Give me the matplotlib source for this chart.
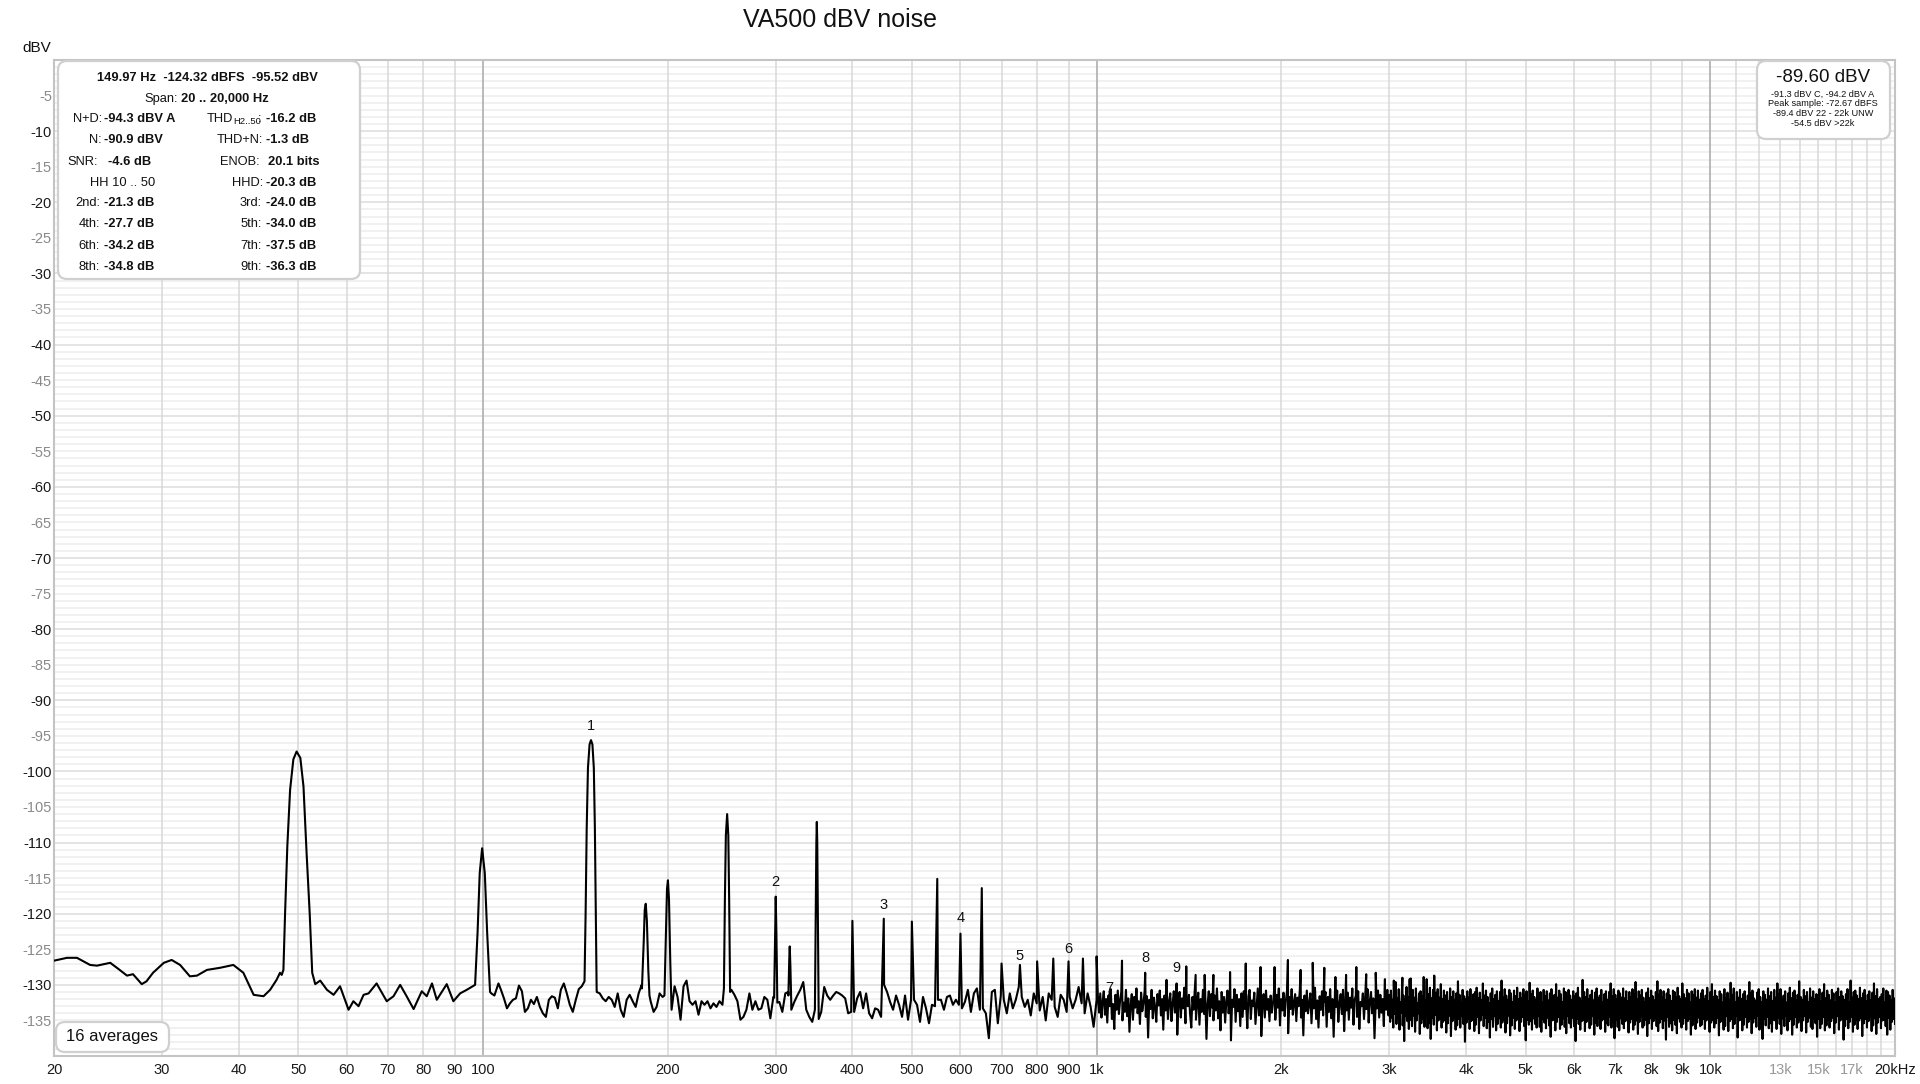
import numpy as np
import matplotlib
matplotlib.use("Agg")
import matplotlib.pyplot as plt
from matplotlib.patches import FancyBboxPatch
from matplotlib.transforms import IdentityTransform
from matplotlib.ticker import NullLocator

plt.rcParams['font.family'] = ['Liberation Sans', 'DejaVu Sans']

# ---------------- data ----------------
# 20 .. 106 Hz, smooth part incl. 50 Hz and 100 Hz peaks
low_freq = [20.0, 21.0, 21.8, 22.9, 23.5, 24.1, 24.7, 25.5, 26.3, 26.9,
            27.8, 28.3, 29.0, 30.2, 31.1, 32.1, 33.3, 34.2, 35.5, 37.3,
            39.2, 40.7, 42.3, 43.9, 45.0, 46.1, 46.7, 47.0, 47.3, 47.6,
            48.0, 48.5, 49.1, 49.7, 50.4, 51.0, 51.6, 52.2, 52.7, 53.3,
            54.3, 55.7, 57.1, 58.5, 59.6, 60.4, 61.5, 62.7, 63.9, 65.1,
            67.1, 69.7, 71.5, 73.3, 75.1, 77.1, 79.5, 81.0, 82.6, 84.1,
            87.3, 89.5, 91.8, 94.1, 97.1, 98.0, 98.8, 99.7, 100.7, 101.6,
            102.7, 103.2, 104.4, 106.0]
low_level = [-126.6, -126.2, -126.2, -127.2, -127.3, -127.1, -126.9, -127.8, -128.7, -128.5,
             -129.9, -129.5, -128.3, -126.9, -126.5, -127.2, -128.8, -128.7, -127.9, -127.6,
             -127.2, -128.3, -131.4, -131.6, -130.7, -129.3, -128.3, -128.6, -127.9, -119.9,
             -110.5, -102.6, -98.3, -97.2, -98.1, -102.1, -111.5, -119.9, -128.3, -129.9,
             -129.4, -130.7, -131.4, -130.2, -132.1, -133.5, -132.3, -133.0, -131.4, -131.2,
             -129.8, -132.3, -131.6, -130.0, -131.6, -133.4, -130.9, -131.6, -129.8, -132.1,
             -129.9, -132.3, -131.2, -130.7, -130.0, -122.7, -114.3, -110.8, -114.3, -122.7,
             -131.0, -131.2, -131.5, -129.8]

# noise floor 107 Hz .. 1 kHz (log-spaced readings)
mid_level = [-130.7, -131.9, -133.3, -132.6, -132.1, -131.9, -130.1, -130.9, -133.8, -133.3,
             -132.1, -132.7, -131.7, -133.1, -134.0, -134.5, -132.1, -131.6, -131.8, -133.3,
             -130.7, -129.8, -131.2, -132.8, -133.8, -132.1, -130.6, -130.2, -130.0, -128.0,
             -128.0, -130.0, -131.0, -131.2, -131.9, -132.3, -131.7, -132.1, -133.1, -131.2,
             -133.5, -134.5, -132.1, -131.4, -132.3, -133.1, -131.2, -130.0, -129.0, -130.0,
             -132.3, -133.8, -133.1, -131.2, -131.7, -131.0, -131.0, -133.5, -130.2, -131.7,
             -134.9, -130.2, -129.4, -132.3, -132.8, -132.3, -134.2, -132.3, -132.8, -132.3,
             -133.3, -132.6, -133.1, -132.3, -132.8, -131.0, -130.5, -130.7, -131.4, -132.3,
             -134.9, -134.5, -133.5, -131.2, -133.5, -132.3, -133.5, -133.3, -131.7, -132.1,
             -134.7, -131.7, -132.4, -132.4, -133.8, -131.2, -131.0, -133.5, -132.4, -131.5,
             -130.7, -129.6, -133.5, -134.5, -135.2, -133.0, -133.5, -133.8, -130.3, -131.5,
             -132.1, -131.5, -131.0, -131.2, -131.5, -131.9, -134.0, -133.8, -133.8, -131.9,
             -131.0, -133.3, -131.2, -134.0, -134.7, -133.3, -133.5, -134.5, -130.0, -131.0,
             -132.4, -133.5, -131.5, -132.8, -134.5, -131.5, -134.9, -132.1, -132.1, -132.8,
             -135.2, -131.7, -133.3, -135.4, -132.8, -133.0, -132.1, -132.1, -133.5, -131.7,
             -131.5, -132.8, -132.1, -132.8, -133.3, -132.4, -130.7, -133.8, -131.2, -130.5,
             -133.5, -133.3, -134.0, -137.5, -131.0, -130.7, -135.4, -131.5, -132.1, -134.0,
             -131.2, -133.3, -132.1, -130.3, -131.7, -133.1, -132.1, -134.3, -131.2, -132.6,
             -133.6, -131.7, -135.0, -131.2, -132.1, -133.1, -134.5, -131.4, -132.1, -133.8,
             -131.7, -133.3, -132.1, -130.3, -132.6, -134.0, -131.2, -133.1, -135.9, -132.1]

# noise floor 1 kHz .. 3 kHz
hi1_level = [-131.8, -133.9, -131.2, -134.6, -132.4, -130.9, -134.2, -132.0, -135.3, -131.5,
             -133.0, -130.6, -134.8, -132.7, -136.2, -131.4, -133.5, -130.8, -134.1, -132.2,
             -131.0, -135.0, -132.5, -133.8, -130.7, -134.4, -131.9, -136.6, -132.8, -131.3,
             -134.9, -131.7, -133.2, -130.5, -134.0, -132.3, -135.5, -131.1, -133.7, -132.6,
             -130.9, -134.5, -131.6, -137.4, -132.1, -133.4, -130.7, -134.7, -131.8, -133.1,
             -135.2, -131.3, -132.9, -130.8, -134.3, -132.0, -136.3, -131.5, -133.6, -130.6,
             -134.8, -132.4, -131.2, -135.1, -132.7, -130.9, -133.9, -131.6, -137.0, -132.2,
             -131.0, -134.6, -131.9, -133.3, -130.4, -135.4, -132.1, -133.0, -131.4, -134.2,
             -136.0, -131.7, -133.5, -130.6, -134.9, -132.5, -131.1, -135.6, -132.0, -133.8,
             -130.7, -134.1, -131.8, -137.6, -132.6, -130.9, -134.4, -131.3, -133.2, -135.0,
             -131.5, -133.6, -130.5, -134.7, -132.3, -136.4, -131.0, -133.9, -131.7, -135.3,
             -132.4, -130.8, -134.0, -131.9, -137.8, -132.1, -133.1, -130.6, -135.2, -131.4,
             -133.7, -132.0, -135.8, -131.2, -134.5, -130.9, -133.4, -132.7, -136.1, -131.6,
             -130.7, -134.8, -132.2, -133.0, -131.1, -135.5, -132.9, -130.5, -134.3, -131.8,
             -137.2, -132.5, -131.3, -134.6, -130.8, -133.5, -132.0, -135.1, -131.5, -133.9,
             -132.6, -130.8, -134.9, -131.4, -133.2, -130.5, -135.7, -132.0, -133.6, -131.1,
             -134.4, -132.3, -130.9, -136.8, -131.7, -133.4, -130.6, -134.2, -132.5, -131.3,
             -135.1, -131.8, -133.0, -130.7, -134.6, -132.1, -137.1, -131.5, -133.7, -130.8,
             -134.0, -132.7, -131.2, -135.4, -131.9, -133.3, -130.4, -134.8, -132.2, -136.0,
             -131.6, -133.5, -130.9, -134.3, -132.4, -131.0, -135.9, -131.7, -133.8, -130.6,
             -134.7, -132.0, -137.3, -131.4, -133.1, -130.8, -135.2, -132.6, -131.3, -134.1,
             -130.7, -136.5, -132.3, -133.6, -131.1, -134.9, -131.8, -133.2, -130.5, -135.6,
             -132.1, -131.5, -134.5, -130.9, -136.2, -132.4, -133.0, -131.2, -134.8, -131.7,
             -133.4, -130.6, -135.3, -132.2, -131.0, -134.0, -131.9, -137.5, -132.5, -133.3,
             -130.8, -134.6, -131.4, -133.9, -132.0, -135.8, -131.2, -133.5, -130.7, -134.3]

# noise floor 3 kHz .. 20 kHz
hi2_level = [-131.4, -135.2, -130.8, -134.6, -132.1, -136.0, -131.0, -134.1, -129.6, -135.5,
             -131.9, -134.8, -130.6, -136.3, -132.4, -133.9, -130.9, -135.7, -131.5, -137.9,
             -132.0, -134.4, -130.3, -135.1, -131.7, -136.2, -129.2, -134.9, -132.3, -135.8,
             -130.7, -134.3, -131.8, -136.6, -130.5, -135.0, -132.6, -134.0, -131.2, -136.9,
             -130.9, -135.4, -131.6, -134.7, -128.9, -135.9, -132.2, -134.5, -130.8, -136.1,
             -131.3, -135.3, -130.4, -137.6, -131.9, -134.6, -130.7, -135.6, -132.5, -134.2,
             -131.1, -136.4, -130.6, -135.0, -131.8, -134.8, -129.9, -136.0, -132.0, -135.2,
             -130.8, -134.9, -131.5, -136.7, -131.0, -135.4, -132.3, -134.3, -130.5, -137.2,
             -131.7, -135.1, -130.9, -134.6, -132.1, -136.3, -131.2, -135.7, -129.5, -134.8,
             -131.4, -136.0, -132.4, -134.4, -130.7, -135.5, -131.6, -138.0, -132.0, -135.3,
             -130.9, -134.7, -131.8, -136.2, -130.6, -135.1, -132.5, -134.9, -131.3, -136.5,
             -131.0, -135.6, -130.4, -134.5, -131.9, -136.8, -131.1, -135.0, -132.2, -134.2,
             -129.8, -135.8, -131.5, -134.6, -130.8, -136.1, -131.7, -135.2, -132.6, -137.4,
             -131.2, -134.8, -130.5, -135.9, -132.0, -134.4, -131.4, -136.4, -130.9, -135.5,
             -132.3, -134.7, -131.0, -136.0, -129.4, -135.3, -131.8, -134.9, -130.6, -136.7,
             -131.5, -135.4, -132.1, -134.3, -130.7, -137.1, -131.2, -135.7, -132.4, -134.6,
             -130.8, -136.2, -131.6, -135.0, -130.4, -134.8, -132.0, -136.5, -131.1, -135.2,
             -131.9, -134.5, -130.6, -135.8, -131.4, -137.8, -130.9, -134.9, -132.3, -135.6,
             -129.7, -135.1, -131.3, -136.3, -130.8, -134.7, -131.7, -135.5, -132.1, -136.0,
             -130.5, -134.4, -131.8, -135.9, -131.0, -136.6, -132.5, -134.8, -130.7, -135.3,
             -131.6, -136.1, -130.9, -134.6, -132.2, -135.7, -131.2, -137.3, -130.6, -135.0,
             -132.0, -134.9, -131.4, -136.4, -129.9, -135.2, -131.8, -134.5, -130.8, -136.2,
             -131.3, -135.6, -132.4, -134.7, -130.5, -135.9, -131.0, -136.8, -131.9, -134.3,
             -130.7, -135.4, -131.5, -136.0, -132.1, -134.6, -130.9, -135.8, -131.6, -137.9,
             -131.2, -134.8, -130.4, -135.5, -131.8, -136.3, -132.3, -135.1, -129.3, -134.9,
             -131.0, -136.5, -131.7, -135.2, -130.6, -134.7, -132.0, -136.1, -131.4, -135.6,
             -130.8, -134.4, -132.2, -137.0, -131.1, -135.3, -130.5, -135.8, -131.9, -134.6,
             -131.5, -136.2, -130.7, -135.0, -132.4, -134.8, -131.3, -136.6, -130.9, -135.4,
             -132.1, -135.7, -131.0, -134.5, -129.8, -136.0, -131.6, -135.2, -130.6, -137.5,
             -131.4, -134.9, -132.0, -135.9, -130.8, -136.4, -131.2, -134.7, -131.8, -135.5,
             -130.5, -136.1, -131.9, -135.1, -130.9, -134.6, -132.3, -136.7, -131.0, -135.3,
             -131.7, -134.8, -130.6, -136.3, -131.3, -135.6, -129.6, -135.0, -132.0, -136.9,
             -130.9, -135.2, -131.5, -134.4, -130.7, -136.0, -131.8, -135.7, -132.4, -134.9,
             -131.1, -137.2, -130.5, -135.4, -131.9, -134.7, -130.8, -136.2, -131.6, -135.1,
             -132.2, -134.6, -131.0, -135.8, -129.5, -136.5, -131.4, -135.3, -130.7, -134.8,
             -131.8, -136.1, -130.9, -135.0, -132.1, -137.7, -131.2, -134.5, -130.6, -135.9,
             -131.5, -135.4, -132.3, -136.4, -130.8, -134.9, -131.0, -135.6, -131.7, -136.8,
             -130.4, -134.7, -131.6, -135.2, -132.0, -136.0, -129.8, -135.5, -131.3, -134.6,
             -131.9, -136.3, -130.7, -135.1, -131.2, -134.8, -132.4, -137.0, -130.9, -135.7,
             -131.4, -134.9, -130.6, -136.2, -131.8, -135.3, -130.8, -134.6, -132.1, -135.8,
             -131.2, -135.6, -130.7, -134.8, -132.0, -136.2, -131.5, -135.0, -130.4, -134.5,
             -132.3, -136.6, -131.0, -135.3, -129.9, -134.9, -131.7, -136.0, -130.8, -135.4,
             -131.6, -134.6, -132.2, -137.1, -130.9, -135.2, -131.3, -134.7, -132.5, -136.3,
             -130.6, -135.8, -131.9, -134.4, -131.1, -136.5, -132.1, -135.1, -129.7, -134.8,
             -131.4, -136.1, -130.5, -135.5, -132.4, -134.3, -131.0, -137.4, -131.8, -135.0,
             -130.7, -134.9, -132.0, -136.4, -131.3, -135.6, -130.9, -134.5, -132.3, -136.0,
             -131.5, -135.2, -129.6, -134.7, -131.2, -136.8, -130.8, -135.3, -131.9, -134.6,
             -132.2, -135.9, -131.1, -134.4, -130.6, -136.3, -131.7, -135.1, -132.4, -137.6,
             -130.9, -134.8, -131.4, -135.7, -132.1, -134.5, -130.5, -136.1, -131.6, -135.4,
             -131.0, -136.6, -132.3, -134.9, -130.7, -135.0, -131.8, -136.2, -129.8, -134.6,
             -131.3, -135.5, -130.6, -136.9, -132.0, -134.7, -131.5, -135.8, -130.9, -134.3,
             -132.5, -136.4, -131.2, -135.1, -130.4, -134.8, -131.9, -137.0, -131.1, -135.6,
             -130.8, -134.5, -132.2, -136.0, -131.4, -135.3, -129.5, -134.9, -131.7, -136.5,
             -132.1, -135.0, -130.7, -134.4, -131.6, -136.7, -131.0, -135.2, -132.4, -134.6,
             -130.5, -135.9, -131.8, -136.2, -130.9, -134.7, -132.0, -135.4, -131.3, -137.3,
             -131.5, -134.8, -130.6, -136.1, -132.3, -135.5, -131.1, -134.5, -129.9, -136.4,
             -131.9, -135.7, -130.8, -134.9, -131.4, -136.0, -132.2, -135.1, -130.7, -134.6,
             -131.2, -136.8, -132.5, -135.3, -131.0, -134.4, -130.5, -136.3, -131.7, -135.0,
             -130.9, -134.7, -131.6, -137.7, -132.1, -135.8, -131.3, -134.8, -130.6, -136.1,
             -132.4, -135.2, -129.4, -134.5, -131.8, -136.6, -131.0, -135.6, -130.8, -134.9,
             -131.5, -136.2, -132.0, -135.0, -130.4, -134.6, -131.9, -137.2, -131.2, -135.4,
             -130.7, -134.8, -132.3, -136.0, -131.4, -135.1, -130.9, -134.4, -132.2, -136.5,
             -131.1, -135.7, -129.8, -134.7, -131.6, -136.9, -130.6, -135.3, -132.0, -134.5,
             -131.7, -136.1, -131.3, -135.0, -130.5, -134.9, -132.4, -135.8, -130.8, -137.0,
             -131.0, -134.6, -131.5, -136.3, -132.1, -135.2, -130.7, -134.8, -131.9, -135.5]

# wide peaks (frequency, level) 150 .. 350 Hz
peak150_freq = [146.4, 147.0, 147.6, 148.3, 149.2, 150.0, 150.8, 151.6, 152.2, 152.7, 153.2]
peak150_level = [-129.5, -120.0, -108.0, -99.5, -96.2, -95.6, -96.2, -99.5, -108.0, -120.0, -130.5]
peak184_freq = [181.6, 182.8, 183.5, 184.2, 185.0, 186.0, 186.8]
peak184_level = [-130.5, -124.0, -119.5, -118.6, -121.0, -128.0, -131.5]
peak200_freq = [197.6, 198.8, 199.5, 200.2, 201.0, 202.0, 202.8]
peak200_level = [-131.5, -122.0, -116.5, -115.3, -118.0, -127.0, -132.5]
peak250_freq = [247.0, 247.9, 248.8, 250.0, 251.1, 251.9, 252.8]
peak250_level = [-130.5, -118.0, -109.0, -106.0, -109.0, -118.0, -131.0]
peak300_freq = [298.2, 299.2, 300.0, 300.8, 301.8]
peak300_level = [-131.8, -124.0, -117.6, -123.0, -132.5]
peak316_freq = [314.6, 315.6, 316.2, 317.0, 318.0]
peak316_level = [-131.5, -126.5, -124.6, -127.5, -132.5]
peak350_freq = [347.5, 348.6, 349.4, 350.0, 350.6, 351.4, 352.5]
peak350_level = [-133.5, -120.0, -110.0, -107.1, -110.0, -120.0, -134.8]

# narrow spikes 400 Hz .. 3.5 kHz
spike_freq = [400, 450, 500, 550, 600, 650, 700, 750, 800, 850,
              900, 950, 1000, 1050, 1100, 1200, 1300, 1350, 1400, 1450,
              1500, 1550, 1650, 1750, 1850, 1950, 2050, 2150, 2250, 2350,
              2450, 2550, 2650, 2750, 2850, 2950, 3050, 3150, 3250, 3450, 3550]
spike_level = [-121.0, -120.7, -121.1, -115.1, -122.8, -116.4, -127.0, -127.2, -126.7, -126.3,
               -126.7, -126.3, -126.0, -131.0, -126.6, -128.3, -129.3, -129.8, -127.4, -128.6,
               -128.6, -128.6, -128.2, -127.0, -127.5, -127.5, -126.5, -127.9, -126.9, -127.6,
               -128.9, -128.6, -127.5, -128.5, -128.3, -129.2, -129.4, -129.0, -129.1, -129.2, -128.7]

# harmonic markers (150 Hz fundamental)
harm_num = ['1', '2', '3', '4', '5', '6', '7', '8', '9']
harm_freq = [150, 300, 450, 600, 750, 900, 1050, 1200, 1350]
harm_label_db = [-93.6, -115.5, -118.8, -120.6, -125.9, -125.0, -130.5, -126.2, -127.7]

ytick_vals = list(range(-135, 0, 5))
xtick_vals = [20, 30, 40, 50, 60, 70, 80, 90, 100, 200, 300, 400, 500, 600, 700, 800, 900,
              1000, 2000, 3000, 4000, 5000, 6000, 7000, 8000, 9000, 10000, 13000, 15000, 17000, 20000]
xtick_labels = ['20', '30', '40', '50', '60', '70', '80', '90', '100', '200', '300', '400', '500',
                '600', '700', '800', '900', '1k', '2k', '3k', '4k', '5k', '6k', '7k', '8k', '9k',
                '10k', '13k', '15k', '17k', '20kHz']
grey_xlabels = ['13k', '15k', '17k']
minor_grid = [30, 40, 50, 60, 70, 80, 90, 200, 300, 400, 500, 600, 700, 800, 900,
              2000, 3000, 4000, 5000, 6000, 7000, 8000, 9000,
              11000, 12000, 13000, 14000, 15000, 16000, 17000, 18000, 19000]
major_grid = [100, 1000, 10000]

# ---------------- build the series ----------------
noise_f = np.concatenate([np.geomspace(107, 1000, len(mid_level)),
                          np.geomspace(1005, 2990, len(hi1_level)),
                          np.geomspace(3000, 20000, len(hi2_level))])
noise_l = np.concatenate([mid_level, hi1_level, hi2_level])
wide = [(peak150_freq, peak150_level), (peak184_freq, peak184_level),
        (peak200_freq, peak200_level), (peak250_freq, peak250_level),
        (peak300_freq, peak300_level), (peak316_freq, peak316_level),
        (peak350_freq, peak350_level)]
keep = np.ones(len(noise_f), dtype=bool)
for pf, pl in wide:
    keep &= ~((noise_f >= min(pf)) & (noise_f <= max(pf)))
f_all = np.concatenate([low_freq, noise_f[keep]] + [np.array(pf) for pf, _ in wide] + [spike_freq])
l_all = np.concatenate([low_level, noise_l[keep]] + [np.array(pl) for _, pl in wide] + [spike_level])
order = np.argsort(f_all, kind='stable')
f_all, l_all = f_all[order], l_all[order]

# ---------------- figure ----------------
W, H = 1920, 1084
fig = plt.figure(figsize=(W / 100, H / 100), dpi=100)
ax = fig.add_axes([54 / W, 1 - 1056 / H, (1895 - 54) / W, (1056 - 60) / H])
ax.set_xscale('log')
ax.set_xlim(20, 20000)
ax.set_ylim(-140, 0)

for db in range(-139, 0):
    ax.axhline(db, color='#dddddd' if db % 10 == 0 else '#eeeeee', lw=1.1, zorder=0)
for f in minor_grid:
    ax.axvline(f, color='#d8d8d8', lw=1.1, zorder=0.5)
for f in major_grid:
    ax.axvline(f, color='#b4b4b4', lw=1.3, zorder=0.6)

ax.plot(f_all, l_all, color='black', lw=1.5, zorder=3)

for n, f, y in zip(harm_num, harm_freq, harm_label_db):
    ax.text(f, y, n, ha='center', va='center', fontsize=10.5, color='#111111', zorder=4)

for s in ax.spines.values():
    s.set_color('#c4c4c4')
    s.set_linewidth(1.5)

ax.xaxis.set_minor_locator(NullLocator())
ax.set_xticks(xtick_vals)
ax.set_xticklabels(xtick_labels)
ax.set_yticks(ytick_vals)
ax.set_yticklabels([str(v) for v in ytick_vals])
ax.tick_params(axis='both', length=0, labelsize=10.5)
ax.tick_params(axis='x', pad=5)
ax.tick_params(axis='y', pad=1.5)
for lab in ax.get_xticklabels():
    lab.set_color('#999999' if lab.get_text() in grey_xlabels else '#1a1a1a')
for lab, v in zip(ax.get_yticklabels(), ytick_vals):
    lab.set_color('#1a1a1a' if v % 10 == 0 else '#8a8a8a')


def ftxt(x, y, s, **kw):
    kw.setdefault('va', 'center')
    kw.setdefault('fontsize', 9.3)
    kw.setdefault('color', '#111111')
    fig.text(x / W, 1 - y / H, s, **kw)


def rbox(x0, y0, x1, y1, r=9):
    p = FancyBboxPatch((x0, H - y1), x1 - x0, y1 - y0,
                       boxstyle='round,pad=0,rounding_size=%d' % r,
                       transform=IdentityTransform(), fc='white', ec='#d0d0d0', lw=1.6)
    fig.add_artist(p)


fig.text(840 / W, 1 - 20 / H, 'VA500 dBV noise', ha='center', va='center', fontsize=18, color='#111111')
ftxt(37, 48, 'dBV', ha='center', fontsize=11)

# left info box
rbox(58, 61, 360, 279)
ftxt(207, 78, '149.97 Hz  -124.32 dBFS  -95.52 dBV', ha='center', fontweight='bold')
ftxt(178, 99, 'Span:', ha='right')
ftxt(181, 99, '20 .. 20,000 Hz', ha='left', fontweight='bold')
ftxt(102, 119, 'N+D:', ha='right')
ftxt(104, 119, '-94.3 dBV A', ha='left', fontweight='bold')
ftxt(233, 119, 'THD', ha='right')
ftxt(233.5, 121, 'H2..50', ha='left', fontsize=6.8)
ftxt(258, 119, ':', ha='left')
ftxt(265.5, 119, '-16.2 dB', ha='left', fontweight='bold')
ftxt(102, 140, 'N:', ha='right')
ftxt(104, 140, '-90.9 dBV', ha='left', fontweight='bold')
ftxt(263, 140, 'THD+N:', ha='right')
ftxt(265.5, 140, '-1.3 dB', ha='left', fontweight='bold')
ftxt(98, 162, 'SNR:', ha='right')
ftxt(107.5, 162, '-4.6 dB', ha='left', fontweight='bold')
ftxt(260, 162, 'ENOB:', ha='right')
ftxt(268.5, 162, '20.1 bits', ha='left', fontweight='bold')
ftxt(89.5, 183, 'HH 10 .. 50', ha='left')
ftxt(263, 183, 'HHD:', ha='right')
ftxt(265.5, 183, '-20.3 dB', ha='left', fontweight='bold')
rows = [('2nd:', '-21.3 dB', '3rd:', '-24.0 dB', 203),
        ('4th:', '-27.7 dB', '5th:', '-34.0 dB', 224),
        ('6th:', '-34.2 dB', '7th:', '-37.5 dB', 246),
        ('8th:', '-34.8 dB', '9th:', '-36.3 dB', 267)]
for l1, v1, l2, v2, y in rows:
    ftxt(100, y, l1, ha='right')
    ftxt(103.5, y, v1, ha='left', fontweight='bold')
    ftxt(262, y, l2, ha='right')
    ftxt(265.5, y, v2, ha='left', fontweight='bold')

# right level box
rbox(1757, 61, 1890, 139)
ftxt(1823, 78, '-89.60 dBV', ha='center', fontsize=13.5)
ftxt(1823, 94, '-91.3 dBV C, -94.2 dBV A', ha='center', fontsize=6.6)
ftxt(1823, 104, 'Peak sample: -72.67 dBFS', ha='center', fontsize=6.6)
ftxt(1823, 114, '-89.4 dBV 22 - 22k UNW', ha='center', fontsize=6.6)
ftxt(1823, 123, '-54.5 dBV >22k', ha='center', fontsize=6.6)

# averages box
rbox(56, 1022, 169, 1052)
ftxt(112.5, 1037, '16 averages', ha='center', fontsize=12)

fig.savefig('out.png', dpi=100, facecolor='white')
